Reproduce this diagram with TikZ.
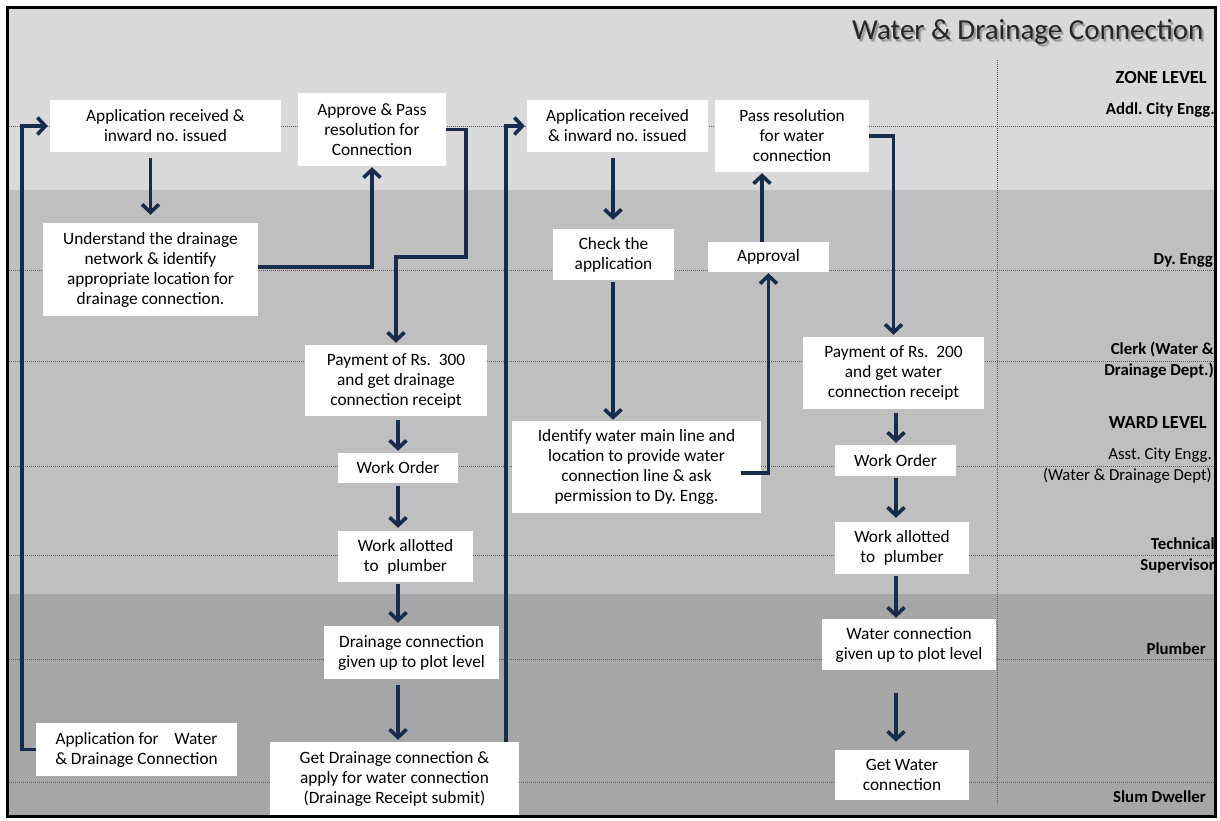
\documentclass[tikz,border=0pt]{standalone}
\usepackage{fontspec}
\setmainfont{Carlito}
\usetikzlibrary{arrows.meta,calc}
\frenchspacing

\definecolor{navy}{HTML}{172B4D}
\definecolor{bandA}{HTML}{D9D9D9}
\definecolor{bandB}{HTML}{BFBFBF}
\definecolor{bandC}{HTML}{A6A6A6}
\definecolor{lanegray}{HTML}{5A5A5A}

\begin{document}
\begin{tikzpicture}[x=1pt,y=-1pt,
  box/.style={fill=white, inner sep=0pt, align=center, font=\fontsize{17.3}{20}\selectfont},
  flow/.style={draw=navy, line width=3.6pt, -{Straight Barb[length=8pt,width=17pt]}},
  lane/.style={draw=lanegray, line width=0.8pt, dash pattern=on 1pt off 1pt},
  role/.style={anchor=east, align=right, inner sep=0pt, font=\bfseries\fontsize{16.8}{21}\selectfont},
  level/.style={anchor=east, inner sep=0pt, font=\bfseries\fontsize{18.5}{21}\selectfont},
]
\useasboundingbox (0,0) rectangle (1220,821);

% background bands and frame
\fill[white] (0,0) rectangle (1220,821);
\fill[bandA] (8,8) rectangle (1215,190);
\fill[bandB] (8,190) rectangle (1215,594);
\fill[bandC] (8,594) rectangle (1215,816);
\draw[black, line width=3pt] (7.5,7.5) rectangle (1215.5,816.5);

% swim-lane separators
\foreach \y in {126,270,361,466,555,659,782}
  \draw[lane] (9,\y) -- (1214,\y);
\draw[lane] (997,60) -- (997,803);

% title with a soft shadow
\foreach \dx/\dy in {1.5/2,2.5/3}
  \node[anchor=east, text=black, opacity=0.18, font=\fontsize{29}{32}\selectfont]
    at (1207+\dx,32+\dy) {Water \& Drainage Connection};
\node[anchor=east, text=black!85, font=\fontsize{29}{32}\selectfont] (title)
  at (1207,32) {Water \& Drainage Connection};

% roles
\node[level] (zone) at (1207,77) {ZONE LEVEL};
\node[role] (addl) at (1215,110) {Addl. City Engg.};
\node[role] (dy) at (1213,260) {Dy. Engg};
\node[role] (clerk) at (1214,360.5) {Clerk (Water \&\\Drainage Dept.)};
\node[level] (ward) at (1207,422) {WARD LEVEL};
\node[role, font=\fontsize{16.8}{21}\selectfont] (asst) at (1212,465.5)
  {Asst. City Engg.\\(Water \& Drainage Dept)};
\node[role] (tech) at (1215,555) {Technical\\Supervisor};
\node[role] (plumb) at (1206,649) {Plumber};
\node[role] (slum) at (1206,797) {Slum Dweller};

% drainage connection steps
\node[box, minimum width=231pt, minimum height=52pt] (app1) at (165.5,126)
  {Application received \&\\inward no. issued};
\node[box, minimum width=215pt, minimum height=93pt] (under) at (150.5,269.5)
  {Understand the drainage\\network \& identify\\appropriate location for\\drainage connection.};
\node[box, minimum width=148pt, minimum height=73pt] (appr) at (372,129.5)
  {Approve \& Pass\\resolution for\\Connection};
\node[box, minimum width=182pt, minimum height=71pt] (pay300) at (396,380.5)
  {Payment of Rs.\ \ 300\\and get drainage\\connection receipt};
\node[box, minimum width=120pt, minimum height=30pt] (wo1) at (398,468) {Work Order};
\node[box, minimum width=135pt, minimum height=51pt] (wa1) at (405.5,556.5)
  {Work allotted\\to\hspace{0.5em}plumber};
\node[box, minimum width=175pt, minimum height=53pt] (dcg) at (411.5,652.5)
  {Drainage connection\\given up to plot level};
\node[box, minimum width=249pt, minimum height=73pt] (getd) at (394.5,778.5)
  {Get Drainage connection \&\\apply for water connection\\(Drainage Receipt submit)};
\node[box, minimum width=201pt, minimum height=53pt] (appfor) at (136.5,749.5)
  {Application for\hspace{0.9em}Water\\\& Drainage Connection};

% water connection steps
\node[box, minimum width=181pt, minimum height=52pt] (app2) at (617.5,126)
  {Application received\\\& inward no. issued};
\node[box, minimum width=121pt, minimum height=51pt] (check) at (613.5,254.5)
  {Check the\\application};
\node[box, minimum width=249pt, minimum height=92pt] (ident) at (636.5,467)
  {Identify water main line and\\location to provide water\\connection line \& ask\\permission to Dy. Engg.};
\node[box, minimum width=121pt, minimum height=30pt] (approval) at (768.5,257) {Approval};
\node[box, minimum width=154pt, minimum height=72pt] (pass) at (792,136)
  {Pass resolution\\for water\\connection};
\node[box, minimum width=181pt, minimum height=72pt] (pay200) at (893.5,373)
  {Payment of Rs.\ \ 200\\and get water\\connection receipt};
\node[box, minimum width=121pt, minimum height=31pt] (wo2) at (895.5,460.5) {Work Order};
\node[box, minimum width=134pt, minimum height=52pt] (wa2) at (902,548)
  {Work allotted\\to\hspace{0.5em}plumber};
\node[box, minimum width=174pt, minimum height=51pt] (wcg) at (909,644.5)
  {Water connection\\given up to plot level};
\node[box, minimum width=134pt, minimum height=50pt] (getw) at (902,775)
  {Get Water\\connection};

% column lines for the connectors
\coordinate (colL) at (22,0);
\coordinate (colA) at (398,0);
\coordinate (colB) at (506,0);
\coordinate (colC) at (613,0);
\coordinate (colD) at (762,0);
\coordinate (colE) at (896,0);
\coordinate (b1) at (466,257);

% drainage flow
\draw[flow, shorten <=6pt, shorten >=8pt] (app1.south -| under.north) -- (under.north);
\draw[flow, shorten >=1pt] ([yshift=2.5pt]under.east) -| (appr.south);
\draw[flow, shorten >=2pt] (appr.east) -| (b1) -| (pay300.north);
\draw[flow, shorten <=4pt, shorten >=2pt] (pay300.south -| colA) -- (wo1.north -| colA);
\draw[flow, shorten <=3pt, shorten >=3pt] (wo1.south -| colA) -- (wa1.north -| colA);
\draw[flow, shorten <=2pt, shorten >=3pt] (wa1.south -| colA) -- (dcg.north -| colA);
\draw[flow, shorten <=6pt, shorten >=2pt] (dcg.south -| colA) -- (getd.north -| colA);
\draw[flow, shorten >=2pt] (appfor.west) -| (colL |- app1.west) -- (app1.west);
\draw[flow, shorten >=2pt] (getd.north -| colB) |- (app2.west);

% water flow
\draw[flow, shorten <=6pt, shorten >=9pt] (app2.south -| colC) -- (check.north -| colC);
\draw[flow, shorten <=2pt, shorten >=1pt] (check.south -| colC) -- (ident.north -| colC);
\draw[flow, shorten >=1pt] ([xshift=-20pt,yshift=-6pt]ident.east) -| (approval.south);
\draw[flow, shorten >=1pt] (approval.north -| colD) -- (pass.south -| colD);
\draw[flow, shorten >=2pt] (pass.east) -| (pay200.north);
\draw[flow, shorten <=4pt, shorten >=2pt] (pay200.south -| colE) -- (wo2.north -| colE);
\draw[flow, shorten <=2pt, shorten >=4pt] (wo2.south -| colE) -- (wa2.north -| colE);
\draw[flow, shorten <=2pt, shorten >=1pt] (wa2.south -| colE) -- (wcg.north -| colE);
\draw[flow, shorten <=23pt, shorten >=8pt] (wcg.south -| colE) -- (getw.north -| colE);
\end{tikzpicture}
\end{document}
